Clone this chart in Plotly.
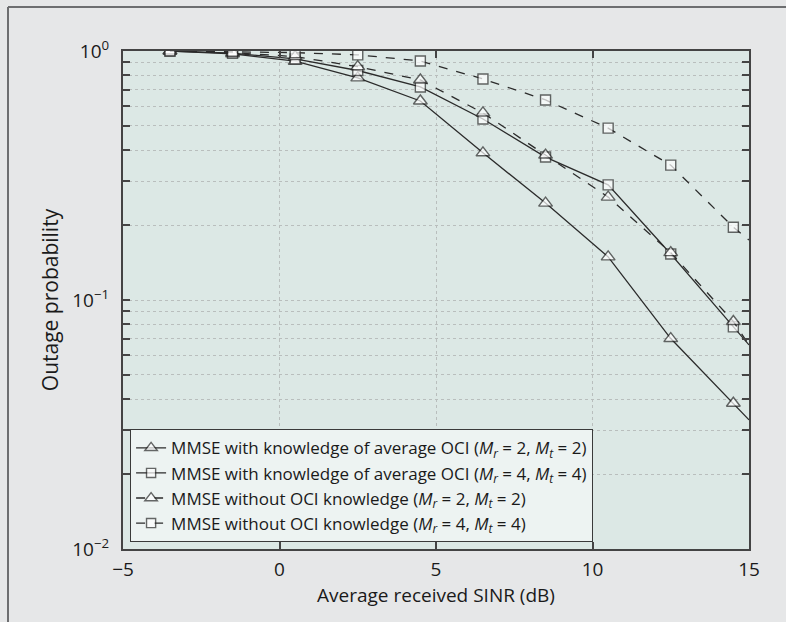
import plotly.graph_objects as go

# ---- data ----
sinr_db = [-3.5, -1.5, 0.5, 2.5, 4.5, 6.5, 8.5, 10.5, 12.5, 14.5, 15.0]
mmse_ks_22 = [1.0, 0.975, 0.91, 0.78, 0.63, 0.39, 0.245, 0.149, 0.070, 0.0385, 0.033]
mmse_ks_44 = [1.0, 0.98, 0.93, 0.835, 0.717, 0.533, 0.375, 0.29, 0.153, 0.078, 0.066]
mmse_no_22 = [1.0, 0.985, 0.95, 0.865, 0.765, 0.564, 0.382, 0.259, 0.155, 0.082, 0.066]
mmse_no_44 = [1.0, 0.995, 0.985, 0.965, 0.912, 0.772, 0.636, 0.49, 0.348, 0.196, 0.174]

names = [
    "MMSE with knowledge of average OCI (<i>M<sub>r</sub></i> = 2, <i>M<sub>t</sub></i> = 2)",
    "MMSE with knowledge of average OCI (<i>M<sub>r</sub></i> = 4, <i>M<sub>t</sub></i> = 4)",
    "MMSE without OCI knowledge (<i>M<sub>r</sub></i> = 2, <i>M<sub>t</sub></i> = 2)",
    "MMSE without OCI knowledge (<i>M<sub>r</sub></i> = 4, <i>M<sub>t</sub></i> = 4)",
]
series = [mmse_ks_22, mmse_ks_44, mmse_no_22, mmse_no_44]
symbols = ["triangle-up", "square", "triangle-up", "square"]
dashes = ["solid", "solid", "dash", "dash"]

x_ticks = [-5, 0, 5, 10, 15]
y_major = [1, 0.1, 0.01]
y_major_text = ["10<sup>0</sup>", "10<sup>\u22121</sup>", "10<sup>\u22122</sup>"]

# ---- figure ----
LINE = "#2b2b2b"
fig = go.Figure()
n = len(sinr_db)
for name, ys, sym, dsh in zip(names, series, symbols, dashes):
    sizes = [12 if sym == "triangle-up" else 10] * (n - 1) + [0]
    fig.add_trace(go.Scatter(
        x=sinr_db, y=ys, name=name, mode="lines+markers",
        line=dict(color=LINE, width=1.3, dash=dsh),
        marker=dict(symbol=sym, size=sizes, color="white",
                    line=dict(color=LINE, width=1.4)),
    ))

# y tick values: majors + minor positions (unlabelled)
y_tickvals, y_ticktext = [], []
for dec in [0.01, 0.1]:
    for k in range(1, 10):
        y_tickvals.append(dec * k)
        y_ticktext.append(y_major_text[y_major.index(dec)] if k == 1 else "")
y_tickvals.append(1)
y_ticktext.append(y_major_text[0])

FONT = "Open Sans"
TXT = "#1a1a1a"
fig.update_layout(
    width=786, height=622,
    margin=dict(l=123, r=37, t=51, b=73),
    paper_bgcolor="#e6e7e8",
    plot_bgcolor="#dce8e5",
    font=dict(family=FONT, size=16, color=TXT),
    showlegend=True,
    legend=dict(
        x=0.011, y=0.014, xanchor="left", yanchor="bottom",
        bgcolor="#edf3f2", bordercolor="#3a3a3a", borderwidth=1.2,
        font=dict(family=FONT, size=17, color=TXT),
        itemwidth=30,
    ),
    xaxis=dict(
        range=[-5, 15], tickvals=x_ticks,
        ticktext=["\u22125" if t < 0 else str(t) for t in x_ticks],
        tickfont=dict(size=19),
        showline=True, linecolor="#444", linewidth=2, mirror="ticks",
        ticks="inside", ticklen=7, tickcolor="#444", tickwidth=1.5,
        showgrid=True, gridcolor="#b9bebd", griddash="dot", gridwidth=1,
        zeroline=False, ticklabelstandoff=2,
        title=dict(text="Average received SINR (dB)", standoff=4,
                   font=dict(size=19)),
    ),
    yaxis=dict(
        type="log", range=[-2, 0],
        tickvals=y_tickvals, ticktext=y_ticktext,
        tickfont=dict(size=19),
        showline=True, linecolor="#444", linewidth=2, mirror="ticks",
        ticks="inside", ticklen=7, tickcolor="#444", tickwidth=1.5,
        showgrid=True, gridcolor="#b9bebd", griddash="dot", gridwidth=1,
        zeroline=False, ticklabelstandoff=8,
        title=dict(text="Outage probability", standoff=8,
                   font=dict(size=21)),
    ),
)

# outer frame (left and top edges)
x0 = (8 - 123) / 626
y_top = (549 - 7) / 498
fig.add_shape(type="line", xref="paper", yref="paper", x0=x0, x1=x0,
              y0=-0.2, y1=y_top, line=dict(color="#6d6e70", width=2))
fig.add_shape(type="line", xref="paper", yref="paper", x0=x0, x1=1.2,
              y0=y_top, y1=y_top, line=dict(color="#6d6e70", width=2))

fig.write_html("out.html")
